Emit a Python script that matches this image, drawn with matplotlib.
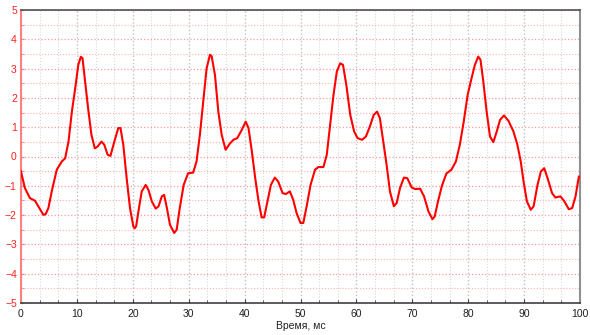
import matplotlib
matplotlib.use('Agg')
import matplotlib.pyplot as plt
from matplotlib.ticker import MultipleLocator
import numpy as np

# signal (time in ms, amplitude)
t_ms = [0.0, 0.1, 0.7, 1.6, 2.5, 3.1, 4.0, 4.4, 4.9, 5.5, 6.4, 7.3, 7.9, 8.5, 9.1,
        9.7, 10.25, 10.7, 11.0, 11.4, 12.0, 12.6, 13.2, 13.7, 14.4, 14.9, 15.5, 16.0,
        16.7, 17.4, 17.8, 18.3, 18.9, 19.5, 20.1, 20.35, 20.6, 21.0, 21.6, 22.3, 22.8,
        23.4, 24.1, 24.6, 25.2, 25.6, 26.1, 26.65, 27.4, 27.85, 28.4, 29.1, 29.9,
        30.8, 31.4, 32.0, 32.6, 33.2, 33.8, 34.1, 34.7, 35.3, 35.9, 36.6, 37.4, 38.0,
        38.7, 39.5, 40.2, 40.7, 41.3, 41.9, 42.5, 43.05, 43.5, 44.1, 44.7, 45.4,
        46.0, 46.8, 47.4, 48.1, 48.7, 49.3, 50.0, 50.5, 51.1, 51.8, 52.6, 53.2,
        54.1, 54.7, 55.3, 55.9, 56.5, 57.1, 57.6, 58.2, 58.9, 59.6, 60.2, 61.0,
        61.7, 62.4, 63.1, 63.7, 64.2, 64.8, 65.4, 66.0, 66.7, 67.2, 67.8, 68.5,
        69.1, 69.9, 70.5, 71.4, 72.1, 72.9, 73.6, 74.0, 74.6, 75.3, 76.1, 77.0,
        77.8, 78.5, 79.2, 79.9, 80.6, 81.2, 81.8, 82.2, 82.7, 83.3, 83.9, 84.5,
        85.1, 85.7, 86.4, 87.2, 88.1, 88.8, 89.4, 89.9, 90.5, 91.2, 91.7, 92.4,
        93.0, 93.6, 94.2, 95.0, 95.6, 96.5, 97.2, 98.0, 98.6, 99.2, 99.8, 100.0]
u_val = [-0.5, -0.6, -1.08, -1.42, -1.51, -1.7, -1.99, -1.97, -1.76, -1.19, -0.45,
         -0.17, -0.06, 0.51, 1.53, 2.33, 3.13, 3.40, 3.36, 2.67, 1.65, 0.74, 0.28,
         0.34, 0.51, 0.40, 0.06, 0.02, 0.51, 0.97, 0.97, 0.40, -0.74, -1.76, -2.39,
         -2.45, -2.38, -1.88, -1.19, -0.97, -1.14, -1.53, -1.78, -1.70, -1.36, -1.31,
         -1.76, -2.33, -2.61, -2.50, -1.76, -0.97, -0.57, -0.55, -0.17, 0.74, 1.88,
         3.01, 3.47, 3.43, 2.78, 1.53, 0.74, 0.23, 0.45, 0.57, 0.63, 0.91, 1.19,
         0.97, 0.17, -0.74, -1.53, -2.08, -2.08, -1.53, -0.97, -0.72, -0.85, -1.25,
         -1.28, -1.19, -1.48, -1.93, -2.27, -2.27, -1.70, -0.97, -0.45, -0.36, -0.36,
         0.06, 1.08, 2.10, 2.90, 3.18, 3.13, 2.44, 1.42, 0.85, 0.63, 0.57, 0.68,
         1.02, 1.42, 1.53, 1.31, 0.51, -0.28, -1.19, -1.70, -1.59, -1.08, -0.72,
         -0.74, -1.06, -1.11, -1.10, -1.36, -1.88, -2.14, -2.05, -1.53, -1.0, -0.58,
         -0.45, -0.17, 0.40, 1.19, 2.10, 2.67, 3.13, 3.41, 3.30, 2.56, 1.53, 0.68,
         0.49, 0.85, 1.25, 1.40, 1.22, 0.85, 0.40, -0.17, -0.85, -1.53, -1.82,
         -1.70, -0.97, -0.51, -0.40, -0.74, -1.25, -1.40, -1.36, -1.53, -1.80,
         -1.76, -1.36, -0.68, -0.70]

plt.rcParams['font.family'] = ['Liberation Sans', 'DejaVu Sans']

fig = plt.figure(figsize=(5.9, 3.35), dpi=100)
ax = fig.add_axes([21 / 590, 32 / 335, 559 / 590, 293 / 335])

ax.plot(t_ms, u_val, color='#ff0000', linewidth=1.5, zorder=3)

ax.set_xlim(0, 100)
ax.set_ylim(-5, 5)
ax.xaxis.set_major_locator(MultipleLocator(10))
ax.xaxis.set_minor_locator(MultipleLocator(10 / 3))
ax.yaxis.set_major_locator(MultipleLocator(1))
ax.yaxis.set_minor_locator(MultipleLocator(0.5))

# grid
ax.grid(True, which='major', axis='x', color='#c0c0c0', linestyle=':', linewidth=1.0)
ax.grid(True, which='minor', axis='x', color='#d8d8d8', linestyle=':', linewidth=0.8)
ax.grid(True, which='major', axis='y', color='#ff9a9a', linestyle=':', linewidth=0.9)
ax.grid(True, which='minor', axis='y', color='#ffb0b0', linestyle=':', linewidth=0.8)
ax.set_axisbelow(True)

# spines
ax.spines['left'].set_color('#ff8080')
ax.spines['left'].set_linewidth(1.5)
ax.spines['bottom'].set_color('#404040')
ax.spines['bottom'].set_linewidth(1.2)
ax.spines['top'].set_color('#505050')
ax.spines['top'].set_linewidth(1.2)
ax.spines['right'].set_color('#909090')
ax.spines['right'].set_linewidth(1.5)

ax.tick_params(axis='y', which='both', colors='#ff8080', labelcolor='#ff2020',
               direction='in', labelsize=7.5, length=2, pad=3)
ax.tick_params(axis='x', which='major', direction='in', length=3, color='#404040',
               labelcolor='#202020', labelsize=7.5, pad=4)
ax.tick_params(axis='x', which='minor', direction='in', length=2, color='#404040')

ax.set_xlabel('Время, мс', fontsize=7.5, color='#202020', labelpad=2)

fig.savefig('out.png', dpi=100, facecolor='white')
